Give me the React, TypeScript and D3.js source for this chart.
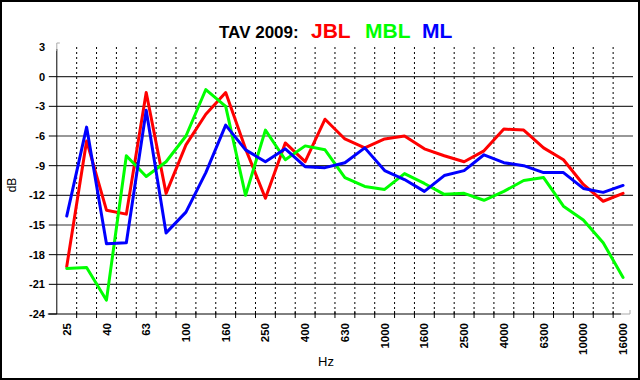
import React from "react";
import * as d3 from "d3";

const categories = ["25","31.5","40","50","63","80","100","125","160","200","250","315","400","500","630","800","1000","1250","1600","2000","2500","3150","4000","5000","6300","8000","10000","12500","16000"];
const jbl = [-19.2, -6.5, -13.5, -13.9, -1.6, -11.8, -6.9, -3.8, -1.6, -7.3, -12.3, -6.7, -8.6, -4.3, -6.3, -7.2, -6.3, -6.0, -7.3, -8.0, -8.6, -7.5, -5.3, -5.4, -7.2, -8.4, -10.9, -12.6, -11.8];
const mbl = [-19.4, -19.3, -22.6, -8.0, -10.1, -8.6, -6.0, -1.3, -3.0, -12.0, -5.4, -8.4, -7.0, -7.4, -10.2, -11.1, -11.4, -9.8, -10.8, -11.9, -11.8, -12.5, -11.6, -10.5, -10.2, -13.1, -14.5, -16.8, -20.3];
const ml = [-14.1, -5.1, -16.9, -16.8, -3.4, -15.8, -13.7, -9.7, -4.9, -7.4, -8.6, -7.3, -9.1, -9.2, -8.7, -7.2, -9.5, -10.4, -11.6, -10.0, -9.5, -7.9, -8.7, -9.0, -9.7, -9.7, -11.3, -11.7, -11.0];
const yTicks = [3, 0, -3, -6, -9, -12, -15, -18, -21, -24];
const xTickLabels = ["25","40","63","100","160","250","400","630","1000","1600","2500","4000","6300","10000","16000"];

const series = [
  { name: "JBL", values: jbl, color: "#FF0000" },
  { name: "MBL", values: mbl, color: "#00FF00" },
  { name: "ML", values: ml, color: "#0000FF" },
];

const FONT = "'Liberation Sans', Arial, sans-serif";

export default function App() {
  const W = 640, H = 380;
  const left = 56.8, right = 633, top = 47, bottom = 314;
  const x = d3.scaleBand<string>().domain(categories).range([left, right]).paddingInner(0).paddingOuter(0);
  const bw = x.bandwidth();
  const cx = (c: string) => (x(c) as number) + bw / 2;
  const y = d3.scaleLinear().domain([-24, 3]).range([bottom, top]);
  const line = d3.line<number>().x((_, i) => cx(categories[i])).y((v) => y(v));

  const boundaries = categories.slice(1).map((c) => x(c) as number);

  return (
    <svg width={W} height={H} style={{ display: "block", position: "absolute", left: 0, top: 0 }} fontFamily={FONT}>
      <rect x={0} y={0} width={W} height={H} fill="#fff" />
      <rect x={1} y={1} width={W - 2} height={H - 2} fill="none" stroke="#000" strokeWidth={2} />

      {/* title */}
      <text y={38} fontWeight="bold">
        <tspan x={219} fontSize={17} fill="#000">TAV 2009:</tspan>
        <tspan x={311} fontSize={21} fill={series[0].color}>{series[0].name}</tspan>
        <tspan x={365} fontSize={21} fill={series[1].color}>{series[1].name}</tspan>
        <tspan x={422} fontSize={21} fill={series[2].color}>{series[2].name}</tspan>
      </text>

      {/* horizontal gridlines */}
      {yTicks.filter((t) => t < 3 && t > -24).map((t) => (
        <line key={"h" + t} x1={left} x2={right} y1={y(t)} y2={y(t)} stroke="#333" strokeWidth={1.2} />
      ))}
      {/* vertical dashed gridlines */}
      {boundaries.map((bx, i) => (
        <line key={"v" + i} x1={bx} x2={bx} y1={top} y2={bottom} stroke="#000" strokeWidth={1} strokeDasharray="2,3" />
      ))}

      {/* axes */}
      <line x1={left} x2={left} y1={top + 2} y2={bottom} stroke="#000" strokeWidth={1} />
      <line x1={left - 9} x2={right - 12} y1={bottom} y2={bottom} stroke="#000" strokeWidth={1} />
      <path d={`M${left} ${top + 4} V${top - 4} H${left + 3}`} fill="none" stroke="#aaa" strokeWidth={1} />
      <path d={`M${right - 12} ${bottom} H${right - 3} V${bottom - 4}`} fill="none" stroke="#aaa" strokeWidth={1} />
      {yTicks.map((t) => (
        <g key={"yt" + t}>
          {t !== 3 && <line x1={left - 8} x2={left} y1={y(t)} y2={y(t)} stroke="#000" strokeWidth={1} />}
          <text x={45} y={y(t)} dy="0.35em" textAnchor="end" fontSize={11} fontWeight="bold" fill="#000">{t}</text>
        </g>
      ))}
      {boundaries.map((bx, i) => (
        <line key={"xt" + i} x1={bx} x2={bx} y1={bottom - 3} y2={bottom + 4} stroke="#000" strokeWidth={1} />
      ))}
      {xTickLabels.map((lab) => (
        <text key={"xl" + lab} transform={`translate(${cx(lab)},${323}) rotate(-90)`} dy="0.35em" textAnchor="end" fontSize={11.5} fontWeight="bold" fill="#000">{lab}</text>
      ))}

      <text x={326} y={366} textAnchor="middle" fontSize={13} fill="#000">Hz</text>
      <text transform={`translate(12,185) rotate(-90)`} dy="0.35em" textAnchor="middle" fontSize={12} fill="#000">dB</text>

      {/* series */}
      {series.map((s) => (
        <path key={s.name} d={line(s.values) || ""} fill="none" stroke={s.color} strokeWidth={3} strokeLinejoin="round" strokeLinecap="round" />
      ))}
    </svg>
  );
}
